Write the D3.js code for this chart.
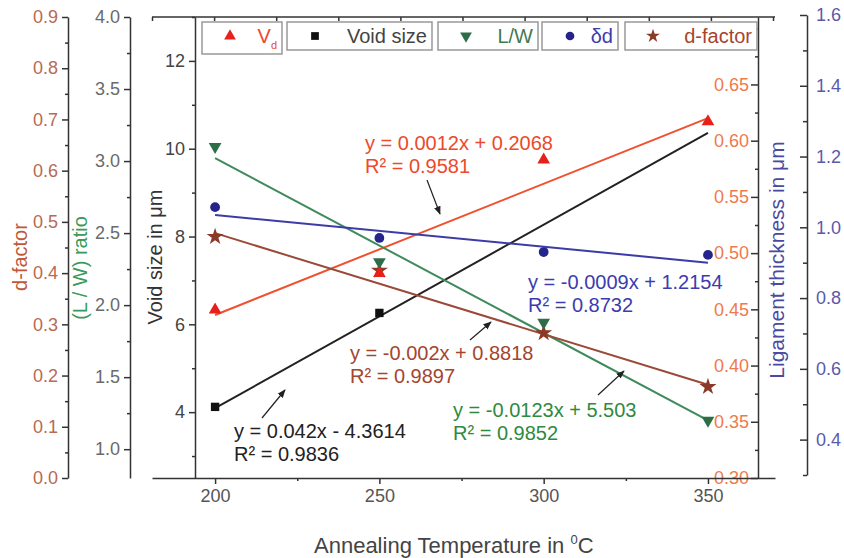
<!DOCTYPE html>
<html>
<head>
<meta charset="utf-8">
<script src="https://cdn.jsdelivr.net/npm/d3@7"></script>
<style>
  body { margin: 0; background: #fff; }
  svg text { font-family: "Liberation Sans", Arial, sans-serif; }
</style>
</head>
<body>
<svg id="chart" width="844" height="558"></svg>
<script>
// data
var temps = [200, 250, 300, 350];
var vfValues = [0.4495, 0.482, 0.583, 0.617];
var voidTemps = [200, 250];
var voidValues = [4.12, 6.26];
var lwValues = [3.10, 2.30, 1.88, 1.20];
var deltaValues = [1.057, 0.970, 0.930, 0.922];
var dfactorValues = [0.471, 0.405, 0.283, 0.178];

// linear fit end points (at 200 and 350)
var fitTemps = [200, 350];
var vfFit = [0.445, 0.620];
var voidFit = [4.09, 10.36];
var lwFit = [3.02, 1.20];
var deltaFit = [1.035, 0.900];
var dfactorFit = [0.478, 0.182];

var xTicks = [200, 250, 300, 350];
var legendNames = ["V", "Void size", "L/W", "δd", "d-factor"];
var equations = [
  ["y = 0.0012x + 0.2068", "R² = 0.9581"],
  ["y = -0.0009x + 1.2154", "R² = 0.8732"],
  ["y = -0.002x + 0.8818", "R² = 0.9897"],
  ["y = 0.042x - 4.3614", "R² = 0.9836"],
  ["y = -0.0123x + 5.503", "R² = 0.9852"]
];

var svg = d3.select("#chart");
var top_ = 17, bottom = 478;

// scales
var x = d3.scaleLinear().domain([180.8, 370.4]).range([152, 775]);
var yVoid = d3.scaleLinear().domain([2.5, 13]).range([bottom, top_]);
var yLW = d3.scaleLinear().domain([0.8, 4.0]).range([bottom, top_]);
var yDf = d3.scaleLinear().domain([0, 0.9]).range([bottom, top_]);
var yVf = d3.scaleLinear().domain([0.30, 0.71]).range([bottom, top_]);
var yLig = d3.scaleLinear().domain([0.3, 1.6]).range([475, 15]);

function range(a, b, s) {
  var out = [];
  for (var v = a; v <= b + 1e-9; v += s) out.push(+v.toFixed(4));
  return out;
}

function styleAxis(g, col) {
  g.selectAll("path, line").attr("stroke", "#333").attr("stroke-width", 1.5);
  g.selectAll("text").attr("fill", col).style("font-size", "18px");
}

// left axes
function leftAxis(xpos, scale, major, minor, fmt, col) {
  var g = svg.append("g").attr("transform", "translate(" + xpos + ",0)");
  g.call(d3.axisLeft(scale).tickValues(major).tickFormat(d3.format(fmt))
    .tickSizeInner(6).tickSizeOuter(0).tickPadding(4));
  styleAxis(g, col);
  var m = svg.append("g").attr("transform", "translate(" + xpos + ",0)");
  m.call(d3.axisLeft(scale).tickValues(minor).tickFormat("").tickSizeInner(3).tickSizeOuter(0));
  styleAxis(m, col);
  m.select(".domain").remove();
  return g;
}

leftAxis(68, yDf, range(0, 0.9, 0.1), range(0.05, 0.85, 0.1), ".1f", "#b86a52");
leftAxis(130, yLW, range(1.0, 4.0, 0.5), range(1.25, 3.75, 0.5), ".1f", "#6a6a6a");
leftAxis(195, yVoid, range(4, 12, 2), range(3, 13, 2), "d", "#444");

// right V axis (labels inside); the 0.70 label sits under the legend
var gVf = svg.append("g").attr("transform", "translate(758,0)");
gVf.call(d3.axisLeft(yVf).tickValues(range(0.30, 0.70, 0.05))
  .tickFormat(function(d) { return d > 0.68 ? "" : d3.format(".2f")(d); })
  .tickSizeInner(7).tickSizeOuter(0).tickPadding(2));
styleAxis(gVf, "#ef7a4c");
var gVfm = svg.append("g").attr("transform", "translate(758,0)");
gVfm.call(d3.axisLeft(yVf).tickValues(range(0.325, 0.70, 0.05)).tickFormat("").tickSizeInner(3).tickSizeOuter(0));
styleAxis(gVfm, "#ef7a4c");
gVfm.select(".domain").remove();

// ligament axis
var gLig = svg.append("g").attr("transform", "translate(807,0)");
gLig.call(d3.axisRight(yLig).tickValues(range(0.4, 1.6, 0.2)).tickFormat(d3.format(".1f"))
  .tickSizeInner(-7).tickSizeOuter(0).tickPadding(9));
styleAxis(gLig, "#5a5aaa");
var gLigm = svg.append("g").attr("transform", "translate(807,0)");
gLigm.call(d3.axisRight(yLig).tickValues(range(0.3, 1.5, 0.2)).tickFormat("").tickSizeInner(-4).tickSizeOuter(0));
styleAxis(gLigm, "#5a5aaa");
gLigm.select(".domain").remove();

// bottom axis
var gx = svg.append("g").attr("transform", "translate(0," + bottom + ")");
gx.call(d3.axisBottom(x).tickValues(xTicks).tickFormat(d3.format("d")).tickSizeInner(6).tickSizeOuter(0).tickPadding(5));
styleAxis(gx, "#555");
var gxm = svg.append("g").attr("transform", "translate(0," + bottom + ")");
gxm.call(d3.axisBottom(x).tickValues([225, 275, 325]).tickFormat("").tickSizeInner(3).tickSizeOuter(0));
styleAxis(gxm, "#555");
gxm.select(".domain").remove();

// top axis, ticks only
var xTop = d3.scaleLinear().domain([0, 10]).range([152, 773]);
var gt = svg.append("g").attr("transform", "translate(0," + top_ + ")");
gt.call(d3.axisTop(xTop).ticks(10).tickFormat("").tickSizeInner(-4).tickSizeOuter(0));
styleAxis(gt, "#555");
gt.select(".domain").attr("d", "M152,0H775");

// axis titles
function vTitle(txt, cx, cy, col, size) {
  svg.append("text").attr("transform", "translate(" + cx + "," + cy + ") rotate(-90)")
    .attr("text-anchor", "middle").attr("dominant-baseline", "central")
    .attr("fill", col).style("font-size", size + "px").text(txt);
}
vTitle("d-factor", 20, 257, "#c0583a", 20);
vTitle("(L / W) ratio", 80, 268, "#3a9a5a", 20);
vTitle("Void size in μm", 155, 257, "#333", 20);
vTitle("Ligament thickness in μm", 776, 260, "#4a4aa0", 21);

var xt = svg.append("text").attr("x", 314).attr("y", 553).attr("fill", "#444")
  .style("font-size", "22px").text("Annealing Temperature in ");
xt.append("tspan").attr("dy", -9).style("font-size", "13px").text("0");
xt.append("tspan").attr("dy", 9).text("C");

// fit lines
var line = d3.line();
function fit(vals, scale, col) {
  svg.append("path")
    .attr("d", line(fitTemps.map(function(t, i) { return [x(t), scale(vals[i])]; })))
    .attr("stroke", col).attr("stroke-width", 2).attr("fill", "none");
}
fit(voidFit, yVoid, "#222");
fit(vfFit, yVf, "#f0502e");
fit(lwFit, yLW, "#3f8a5c");
fit(deltaFit, yLig, "#3c3ca6");
fit(dfactorFit, yDf, "#9a4a38");

// markers
function markers(xs, vals, scale, type, size, col, rot) {
  svg.selectAll(null).data(vals).enter().append("path")
    .attr("d", d3.symbol().type(type).size(size))
    .attr("transform", function(d, i) {
      return "translate(" + x(xs[i]) + "," + scale(d) + ")" + (rot ? " rotate(180)" : "");
    })
    .attr("fill", col);
}
markers(voidTemps, voidValues, yVoid, d3.symbolSquare, 70, "#111");
markers(temps, dfactorValues, yDf, d3.symbolStar, 90, "#8c3a28");
markers(temps, lwValues, yLW, d3.symbolTriangle, 70, "#2d6e48", true);
markers(temps, deltaValues, yLig, d3.symbolCircle, 75, "#24248c");
markers(temps, vfValues, yVf, d3.symbolTriangle, 70, "#e8201c");

// equations
var eqPos = [[365, 150, "#ec4a2a"], [528, 289, "#3c3cae"], [350, 360, "#a5452e"], [234, 438, "#222"], [453, 417, "#2e8a3e"]];
equations.forEach(function(eq, i) {
  eq.forEach(function(s, j) {
    svg.append("text").attr("x", eqPos[i][0]).attr("y", eqPos[i][1] + j * 23)
      .attr("fill", eqPos[i][2]).style("font-size", "20px").text(s);
  });
});

// arrows
svg.append("defs").append("marker").attr("id", "ah").attr("viewBox", "0 0 10 10")
  .attr("refX", 9).attr("refY", 5).attr("markerWidth", 7).attr("markerHeight", 7)
  .attr("orient", "auto").append("path").attr("d", "M0,1L10,5L0,9Z").attr("fill", "#222");
var arrows = [[427, 180, 440, 214], [470, 340, 491, 322], [262, 418, 285, 390], [598, 395, 624, 371]];
arrows.forEach(function(a) {
  svg.append("line").attr("x1", a[0]).attr("y1", a[1]).attr("x2", a[2]).attr("y2", a[3])
    .attr("stroke", "#222").attr("stroke-width", 1.2).attr("marker-end", "url(#ah)");
});

// legend boxes
var legBoxes = [[202, 282], [287, 432], [438, 538], [542, 618], [625, 757]];
var legSym = [d3.symbolTriangle, d3.symbolSquare, d3.symbolTriangle, d3.symbolCircle, d3.symbolStar];
var legCol = ["#e8201c", "#111", "#2d6e48", "#24248c", "#8c3a28"];
var legText = ["#ec4a2a", "#444", "#3f7a52", "#3c3cae", "#a5452e"];
legBoxes.forEach(function(b, i) {
  var g = svg.append("g");
  g.append("rect").attr("x", b[0]).attr("y", 22).attr("width", b[1] - b[0]).attr("height", i == 0 ? 32 : 28)
    .attr("fill", "#fff").attr("stroke", "#999").attr("stroke-width", 1.5);
  g.append("path").attr("d", d3.symbol().type(legSym[i]).size(60))
    .attr("transform", "translate(" + (b[0] + 28) + ",36)" + (i == 2 ? " rotate(180)" : ""))
    .attr("fill", legCol[i]);
  var t = g.append("text").attr("x", b[1] - 5).attr("y", 43).attr("text-anchor", "end")
    .attr("fill", legText[i]).style("font-size", "20px").text(legendNames[i]);
  if (i == 0) t.append("tspan").attr("dy", 6).style("font-size", "11px").text("d");
});
</script>
</body>
</html>
